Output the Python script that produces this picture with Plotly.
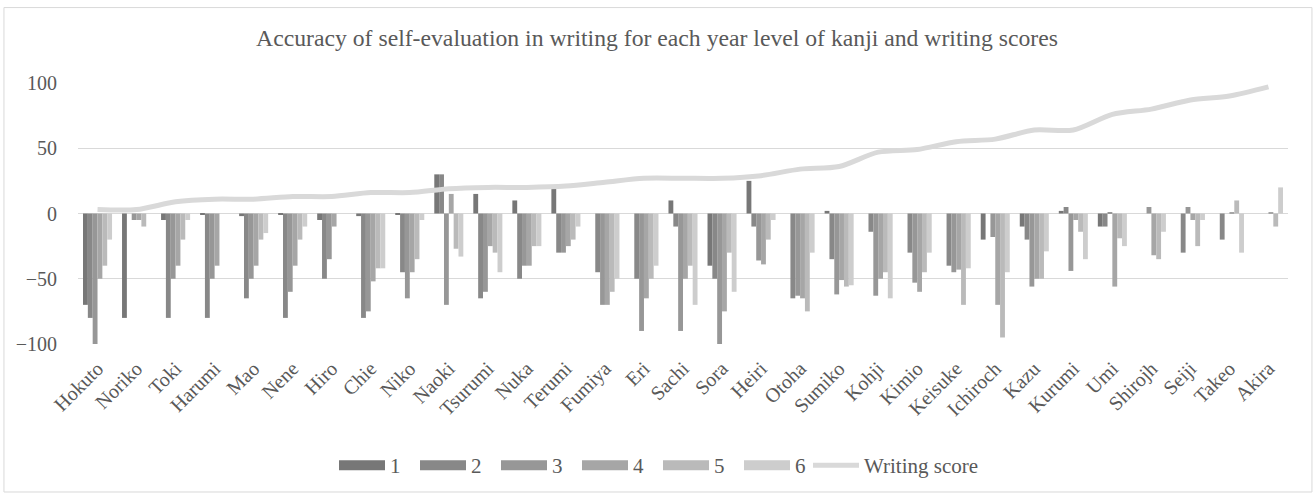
import plotly.graph_objects as go

students = ["Hokuto", "Noriko", "Toki", "Harumi", "Mao", "Nene", "Hiro", "Chie", "Niko", "Naoki",
            "Tsurumi", "Nuka", "Terumi", "Fumiya", "Eri", "Sachi", "Sora", "Heiri", "Otoha", "Sumiko",
            "Kohji", "Kimio", "Keisuke", "Ichiroch", "Kazu", "Kurumi", "Umi", "Shirojh", "Seiji", "Takeo", "Akira"]

# accuracy of self-evaluation per kanji year level (one list per level)
level1 = [-70, -80, -5, -1, -2, -1, -5, -2, -1, 30, 15, 10, 19, 0, 0, 10, -40, 25, 0, 2,
          0, 0, 0, -20, -10, 2, -10, 0, 0, 0, 0]
level2 = [-80, 0, -80, -80, -65, -80, -50, -80, -45, 30, -65, -50, -30, -45, -50, -10, -50, -10, -65, -35,
          -14, -30, -40, 0, -20, 5, -10, 0, -30, -20, 0]
level3 = [-100, -5, -50, -50, -50, -60, -35, -75, -65, -70, -60, -40, -30, -70, -90, -90, -100, -36, -63, -62,
          -63, -53, -45, -18, -56, -44, 1, 5, 5, 0, 0]
level4 = [-50, -5, -40, -40, -40, -40, -10, -52, -45, 15, -25, -40, -25, -70, -65, -50, -75, -39, -65, -51,
          -50, -60, -43, -70, -50, -5, -56, -32, -5, 1, 1]
level5 = [-40, -10, -20, 0, -20, -20, 0, -42, -35, -27, -30, -25, -20, -60, -50, -40, -30, -20, -75, -56,
          -45, -45, -70, -95, -50, -14, -19, -35, -25, 10, -10]
level6 = [-20, 0, -5, 0, -15, -10, 0, -42, -5, -33, -45, -25, -10, -50, -40, -70, -60, -5, -30, -55,
          -65, -30, -42, -45, -29, -35, -25, -14, -5, -30, 20]

writing_score = [3, 3, 9, 11, 11, 13, 13, 16, 16, 19, 20, 20, 21, 24, 27, 27, 27, 29, 34, 36,
                 47, 49, 55, 57, 64, 64, 76, 80, 87, 90, 97]

levels = [level1, level2, level3, level4, level5, level6]
level_names = ["1", "2", "3", "4", "5", "6"]
bar_colors = ["#777777", "#888888", "#979797", "#a6a6a6", "#bababa", "#cdcdcd"]
line_color = "#d9d9d9"
text_color = "#595959"
font_name = "Liberation Serif"

fig = go.Figure()

for vals, name, col in zip(levels, level_names, bar_colors):
    fig.add_trace(go.Bar(x=students, y=vals, name=name, marker_color=col,
                         marker_line_width=0, legendgroup=name, showlegend=False))
    # wide swatch for the legend entry
    fig.add_trace(go.Scatter(x=[None], y=[None], mode="lines", name=name, legendgroup=name,
                             line=dict(color=col, width=10)))

fig.add_trace(go.Scatter(x=students, y=writing_score, mode="lines", name="Writing score",
                         legend="legend2",
                         line=dict(color=line_color, width=5, shape="spline", smoothing=0.8)))

# plot area in pixels: x 78..1288, y 83..345
fig.add_shape(type="rect", xref="paper", yref="paper",
              x0=-0.0612, x1=1.0198, y0=-0.567, y1=1.289,
              line=dict(color="#d9d9d9", width=1), fillcolor="rgba(0,0,0,0)", layer="below")

fig.update_layout(
    width=1314, height=497,
    margin=dict(l=78, r=26, t=83, b=152),
    paper_bgcolor="white", plot_bgcolor="white",
    barmode="group", bargap=0.256, bargroupgap=0,
    font=dict(family=font_name, size=20, color=text_color),
    title=dict(text="Accuracy of self-evaluation in writing for each year level of kanji and writing scores",
               x=0.5, xanchor="center", y=1 - 38 / 497, yanchor="middle", yref="container",
               font=dict(family=font_name, size=23.7, color=text_color)),
    legend=dict(orientation="h", x=(334 - 78) / 1210, xanchor="left", y=-0.46, yanchor="middle",
                itemwidth=46, font=dict(size=21, color=text_color), entrywidth=20,
                bgcolor="rgba(0,0,0,0)"),
    legend2=dict(orientation="h", x=(808 - 78) / 1210, xanchor="left", y=-0.46, yanchor="middle",
                 itemwidth=46, font=dict(size=21, color=text_color),
                 bgcolor="rgba(0,0,0,0)"),
    showlegend=True,
)

fig.update_xaxes(tickangle=-45, showline=False, ticks="", showgrid=False,
                 tickfont=dict(size=20, color=text_color), ticklabelstandoff=8)
fig.update_yaxes(range=[-100, 100], tickvals=[-100, -50, 0, 50, 100], showgrid=True,
                 gridcolor="#d9d9d9", gridwidth=1, zeroline=True, zerolinecolor="#d9d9d9",
                 zerolinewidth=1, showline=False, ticks="", ticklabelstandoff=20,
                 tickfont=dict(size=20, color=text_color))

fig.write_html("out.html", config={"displayModeBar": False},
               post_script="document.body.style.margin='0';")
